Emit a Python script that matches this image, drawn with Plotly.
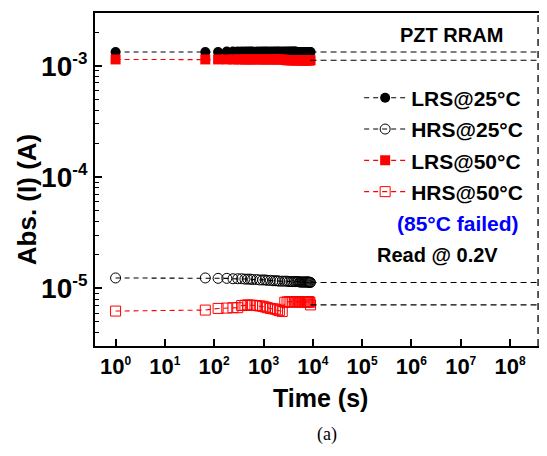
import plotly.graph_objects as go

# ---- data ----
time_s = [1, 66, 120, 180, 240, 300, 360, 420, 480, 540, 600,
          720, 840, 960, 1080, 1200,
          1380, 1560, 1740, 1920,
          2100, 2400, 2700, 3000,
          3300, 3600, 3900, 4200, 4500, 4800, 5100, 5400, 5700, 6000,
          6300, 6600, 6900, 7200, 7500, 7800, 8100, 8400, 8700, 9000]

lrs_25 = [1.33e-3, 1.33e-3, 1.33e-3, 1.34e-3, 1.34e-3, 1.34e-3, 1.34e-3, 1.34e-3, 1.34e-3, 1.34e-3, 1.34e-3,
          1.34e-3, 1.34e-3, 1.34e-3, 1.34e-3, 1.34e-3,
          1.34e-3, 1.34e-3, 1.34e-3, 1.34e-3,
          1.34e-3, 1.34e-3, 1.34e-3, 1.34e-3,
          1.34e-3, 1.34e-3, 1.34e-3, 1.34e-3, 1.34e-3, 1.33e-3, 1.33e-3, 1.33e-3, 1.33e-3, 1.33e-3,
          1.33e-3, 1.33e-3, 1.33e-3, 1.33e-3, 1.33e-3, 1.33e-3, 1.33e-3, 1.33e-3, 1.33e-3, 1.33e-3]

hrs_25 = [1.24e-5, 1.24e-5, 1.23e-5, 1.23e-5, 1.22e-5, 1.22e-5, 1.22e-5, 1.21e-5, 1.21e-5, 1.21e-5, 1.20e-5,
          1.20e-5, 1.19e-5, 1.19e-5, 1.19e-5, 1.18e-5,
          1.18e-5, 1.17e-5, 1.17e-5, 1.17e-5,
          1.16e-5, 1.16e-5, 1.16e-5, 1.16e-5,
          1.15e-5, 1.15e-5, 1.15e-5, 1.15e-5, 1.15e-5, 1.15e-5, 1.15e-5, 1.14e-5, 1.14e-5, 1.14e-5,
          1.14e-5, 1.14e-5, 1.14e-5, 1.14e-5, 1.14e-5, 1.14e-5, 1.14e-5, 1.14e-5, 1.13e-5, 1.13e-5]

lrs_50 = [1.14e-3, 1.14e-3, 1.14e-3, 1.14e-3, 1.14e-3, 1.14e-3, 1.14e-3, 1.14e-3, 1.14e-3, 1.14e-3, 1.14e-3,
          1.14e-3, 1.14e-3, 1.14e-3, 1.14e-3, 1.14e-3,
          1.14e-3, 1.14e-3, 1.14e-3, 1.14e-3,
          1.14e-3, 1.14e-3, 1.13e-3, 1.12e-3,
          1.12e-3, 1.12e-3, 1.12e-3, 1.12e-3, 1.12e-3, 1.12e-3, 1.12e-3, 1.12e-3, 1.12e-3, 1.12e-3,
          1.12e-3, 1.12e-3, 1.12e-3, 1.12e-3, 1.12e-3, 1.12e-3, 1.12e-3, 1.12e-3, 1.12e-3, 1.12e-3]

hrs_50 = [6.25e-6, 6.38e-6, 6.60e-6, 6.65e-6, 6.70e-6, 6.70e-6, 7.00e-6, 7.05e-6, 7.10e-6, 7.05e-6, 7.05e-6,
          7.00e-6, 6.95e-6, 6.90e-6, 6.80e-6, 6.70e-6,
          6.60e-6, 6.55e-6, 6.50e-6, 6.40e-6,
          6.30e-6, 6.20e-6, 7.50e-6, 7.55e-6,
          7.60e-6, 7.55e-6, 7.60e-6, 7.55e-6, 7.60e-6, 7.55e-6, 7.60e-6, 7.55e-6, 7.60e-6, 7.55e-6,
          7.60e-6, 7.55e-6, 7.60e-6, 7.55e-6, 7.60e-6, 7.55e-6, 7.60e-6, 7.55e-6, 7.50e-6, 7.10e-6]

series_names = ["LRS@25°C", "HRS@25°C", "LRS@50°C", "HRS@50°C"]
series_values = [lrs_25, hrs_25, lrs_50, hrs_50]
series_colors = ["black", "black", "red", "red"]
series_symbols = ["circle", "circle-open", "square", "square-open"]

ten_years_s = 3.7e8          # extrapolation target (vertical dashed line)

x_tickvals = [1, 10, 1e2, 1e3, 1e4, 1e5, 1e6, 1e7, 1e8]
x_ticktext = ["10<sup><span style='font-size:12px'>%d</span></sup>" % i for i in range(9)]
y_tickvals = [1e-5, 1e-4, 1e-3]
y_ticktext = ["10<sup><span style='font-size:17px'>-5</span></sup>",
              "10<sup><span style='font-size:17px'>-4</span></sup>",
              "10<sup><span style='font-size:17px'>-3</span></sup>"]

FONT = "Liberation Sans, Arial, Helvetica, sans-serif"
SERIF = "Liberation Serif, Times New Roman, serif"

fig = go.Figure()

for name, vals, col, sym in zip(series_names, series_values, series_colors, series_symbols):
    is_open = sym.endswith("open")
    fig.add_trace(go.Scatter(
        x=time_s, y=vals, name=name, mode="lines+markers",
        legendgroup=name,
        line=dict(color=col, width=1.1, dash="5px,4px"),
        marker=dict(symbol=sym, size=10, color=col,
                    line=dict(color=col, width=1 if is_open else 0)),
    ))

# extrapolation lines (black dashed) from last point to 10-year mark
for vals in series_values:
    fig.add_trace(go.Scatter(
        x=[time_s[-1], ten_years_s], y=[vals[-1], vals[-1]], mode="lines",
        showlegend=False, hoverinfo="skip",
        line=dict(color="black", width=1.1, dash="6px,4px"),
    ))

fig.add_shape(type="line", xref="x", yref="paper", x0=ten_years_s, x1=ten_years_s, y0=0, y1=1,
              line=dict(color="black", width=1.3, dash="7px,5px"))

fig.update_xaxes(
    type="log", range=[-0.4175, 8.709], automargin=False,
    tickmode="array", tickvals=x_tickvals, ticktext=x_ticktext,
    ticks="inside", ticklen=7, tickwidth=1.5, tickcolor="black",
    showline=True, linecolor="black", linewidth=2, mirror=True,
    showgrid=False, zeroline=False,
    tickfont=dict(family=FONT, size=22, color="black", weight="bold"),
)
fig.update_yaxes(
    type="log", range=[-5.518, -2.526], automargin=False,
    tickmode="array", tickvals=y_tickvals, ticktext=y_ticktext,
    ticks="inside", ticklen=7, tickwidth=1.5, tickcolor="black",
    minor=dict(ticks="inside", ticklen=4, tickwidth=1, tickcolor="black", dtick="D1"),
    showline=True, linecolor="black", linewidth=2, mirror=True,
    showgrid=False, zeroline=False,
    tickfont=dict(family=FONT, size=28, color="black", weight="bold"),
)

def ann(text, x, y, size, color="black", weight="bold", family=FONT, angle=0):
    fig.add_annotation(text=text, xref="paper", yref="paper", x=x, y=y,
                       xanchor="center", yanchor="middle", showarrow=False, textangle=angle,
                       font=dict(family=family, size=size, color=color, weight=weight))

ann("PZT RRAM", 0.793, 0.934, 20)
ann("(85°C failed)", 0.807, 0.369, 21, color="blue")
ann("Read @ 0.2V", 0.760, 0.273, 20)
ann("Time (s)", 0.5, -0.156, 25)
ann("Abs. (I) (A)", -0.151, 0.438, 26, angle=-90)
ann("(a)", 0.516, -0.267, 18, weight="normal", family=SERIF)

# page body has an 8px default margin; figure size/margins compensate for it
fig.update_layout(
    width=539, height=448,
    margin=dict(l=87, r=2, t=5, b=110, autoexpand=False),
    paper_bgcolor="white", plot_bgcolor="white",
    showlegend=True,
    legend=dict(x=0.587, y=0.806, xanchor="left", yanchor="top",
                bgcolor="rgba(0,0,0,0)", borderwidth=0,
                itemwidth=42, tracegroupgap=1, traceorder="grouped",
                font=dict(family=FONT, size=21, color="black", weight="bold")),
)

fig.write_html("out.html")
